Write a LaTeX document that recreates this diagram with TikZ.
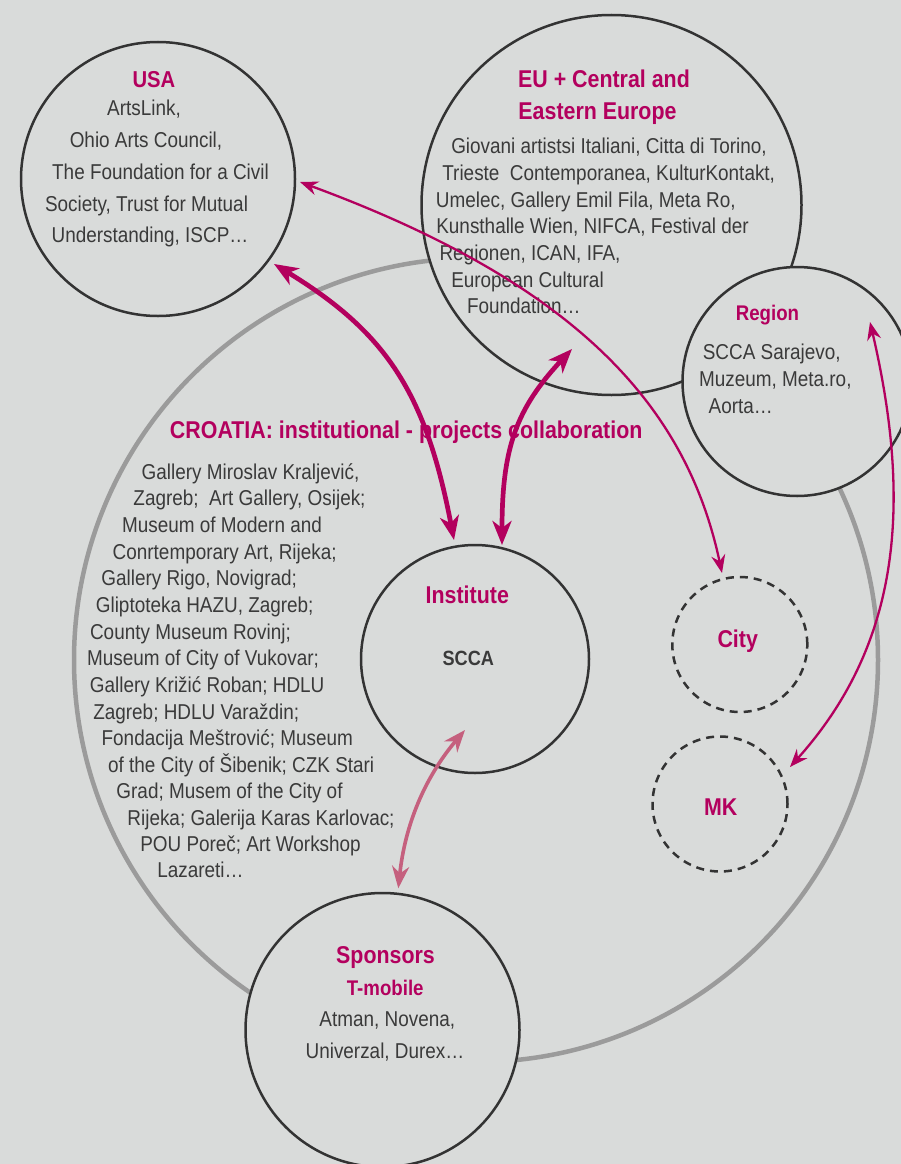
\documentclass[tikz,border=0pt]{standalone}
\usepackage{fontspec}
\setmainfont{Liberation Sans}[FakeStretch=0.88]
\usetikzlibrary{arrows.meta}
\definecolor{bg}{HTML}{D9DBDA}
\definecolor{ink}{HTML}{333333}
\definecolor{txt}{HTML}{3A3A3A}
\definecolor{mag}{HTML}{B3005E}
\definecolor{pinkarr}{HTML}{C5607E}
\definecolor{ring}{HTML}{9B9B9B}
\tikzset{
  bubble/.style={circle, draw=ink, line width=2.5pt, fill=bg, inner sep=0pt},
  dbubble/.style={circle, draw=ink, line width=2.5pt, dash pattern=on 8pt off 6pt, inner sep=0pt},
  body/.style={anchor=base, text=txt, inner sep=0pt, font=\fontsize{21.5}{26}\selectfont},
  head/.style={anchor=base, text=mag, inner sep=0pt, font=\bfseries\fontsize{24.3}{29}\selectfont},
  subhead/.style={anchor=base, text=mag, inner sep=0pt, font=\bfseries\fontsize{21.2}{26}\selectfont},
  thinarr/.style={draw=mag, line width=2.3pt,
    arrows={Stealth[length=18pt,width=14pt,inset=6pt]-Stealth[length=18pt,width=14pt,inset=6pt]}},
  thickarr/.style={draw=mag, line width=4.7pt,
    arrows={Stealth[length=24pt,width=19pt,inset=7pt]-Stealth[length=24pt,width=19pt,inset=7pt]}},
  pinkarrow/.style={draw=pinkarr, line width=3.6pt,
    arrows={Stealth[length=22pt,width=17pt,inset=7pt]-Stealth[length=22pt,width=17pt,inset=7pt]}},
}
\begin{document}
\begin{tikzpicture}[x=1pt,y=-1pt]
\useasboundingbox (0,0) rectangle (901,1164);
\clip (0,0) rectangle (901,1164);
\fill[bg] (0,0) rectangle (901,1164);

% big Croatia ring
\node[circle, draw=ring, line width=4.5pt, inner sep=0pt, minimum size=804pt] (croatia) at (476,660) {};

% circles
\node[bubble, minimum size=274pt] (usa) at (158,179) {};
\node[bubble, minimum size=380pt] (eu) at (611.5,205) {};
\node[bubble, minimum size=229pt] (region) at (797,381.5) {};
\node[bubble, minimum size=228pt] (inst) at (475,659) {};
\node[dbubble, minimum size=135pt] (city) at (739.8,644.5) {};
\node[dbubble, minimum size=135pt] (mk) at (720,804) {};
\node[bubble, minimum size=274pt] (spons) at (382.5,1030) {};

% USA
\node[head, font=\bfseries\fontsize{23}{28}\selectfont] (usah) at (154,87) {USA};
\foreach \x/\y/\tx [count=\i] in {
  144/115/{ArtsLink,},
  146/147/{Ohio Arts Council,},
  160.5/179/{The Foundation for a Civil},
  146.5/211/{Society, Trust for Mutual},
  150/242/{Understanding, ISCP…}}
  \node[body] (usa\i) at (\x,\y) {\tx};

% EU
\node[head] (euh1) at (604,87.3) {EU + Central and};
\node[head] (euh2) at (597.5,119) {Eastern Europe};
\foreach \x/\y/\tx [count=\i] in {
  609/153.3/{Giovani artistsi Italiani, Citta di Torino,},
  608.7/180.7/{Trieste\ \ Contemporanea, KulturKontakt,},
  585.8/207.7/{Umelec, Gallery Emil Fila, Meta Ro,},
  592.5/233.3/{Kunsthalle Wien, NIFCA, Festival der},
  530/260/{Regionen, ICAN, IFA,},
  527.5/287.3/{European Cultural},
  523.8/313.3/{Foundation…}}
  \node[body] (eu\i) at (\x,\y) {\tx};

% Region
\node[subhead] (regh) at (767.5,320.7) {Region};
\foreach \x/\y/\tx [count=\i] in {
  771.7/359.3/{SCCA Sarajevo,},
  775.3/386.7/{Muzeum, Meta.ro,},
  740.8/413.3/{Aorta…}}
  \node[body] (reg\i) at (\x,\y) {\tx};

% Croatia
\node[head] (croh) at (406.2,438.3) {CROATIA: institutional - projects collaboration};
\foreach \x/\y/\tx [count=\i] in {
  250.5/479.3/{Gallery Miroslav Kraljević,},
  249.5/505.7/{Zagreb;\ \ Art Gallery, Osijek;},
  222/532/{Museum of Modern and},
  224.7/559/{Conrtemporary Art, Rijeka;},
  199.2/585.7/{Gallery Rigo, Novigrad;},
  204.7/612.3/{Gliptoteka HAZU, Zagreb;},
  190.5/639/{County Museum Rovinj;},
  203/665.7/{Museum of City of Vukovar;},
  207.2/692.3/{Gallery Križić Roban; HDLU},
  196.2/719/{Zagreb; HDLU Varaždin;},
  227.3/745.7/{Fondacija Meštrović; Museum},
  241.2/772/{of the City of Šibenik; CZK Stari},
  229.5/798.3/{Grad; Musem of the City of},
  261/825/{Rijeka; Galerija Karas Karlovac;},
  250.5/851.7/{POU Poreč; Art Workshop},
  200.5/877.3/{Lazareti…}}
  \node[body] (cro\i) at (\x,\y) {\tx};

% Institute
\node[head] (insth) at (467.3,603.3) {Institute};
\node[anchor=base, inner sep=0pt, text=txt, font=\bfseries\fontsize{20.6}{25}\selectfont] (scca) at (468.3,665.7) {SCCA};

% City, MK
\node[head] (cityt) at (737.7,647.3) {City};
\node[head] (mkt) at (720.7,815) {MK};

% Sponsors
\node[head] (sponh) at (385.5,963.3) {Sponsors};
\node[subhead] (tmob) at (385.2,995) {T-mobile};
\node[body] (spon1) at (387.3,1026.7) {Atman, Novena,};
\node[body] (spon2) at (385,1058.3) {Univerzal, Durex…};

% arrow end points
\coordinate (usaA) at (300,182);
\coordinate (cityA) at (722,573);
\coordinate (usaB) at (274,264);
\coordinate (instB) at (454,540);
\coordinate (euC) at (572,349);
\coordinate (instC) at (502,545);
\coordinate (regD) at (870,322);
\coordinate (mkD) at (790,767);
\coordinate (sponE) at (398.3,888.3);
\coordinate (instE) at (465,730);

% arrows
\draw[thinarr] (usaA) .. controls (580,285) and (687,408.5) .. (cityA);
\draw[thinarr] (regD) .. controls (915,515) and (895,650) .. (mkD);
\draw[thickarr] (usaB) .. controls (386.3,332.4) and (425.9,393.1) .. (instB);
\draw[thickarr] (instC) .. controls (502,448.3) and (516,409) .. (euC);
\draw[pinkarrow] (sponE) .. controls (405,824.6) and (425,777.1) .. (instE);
\end{tikzpicture}
\end{document}
